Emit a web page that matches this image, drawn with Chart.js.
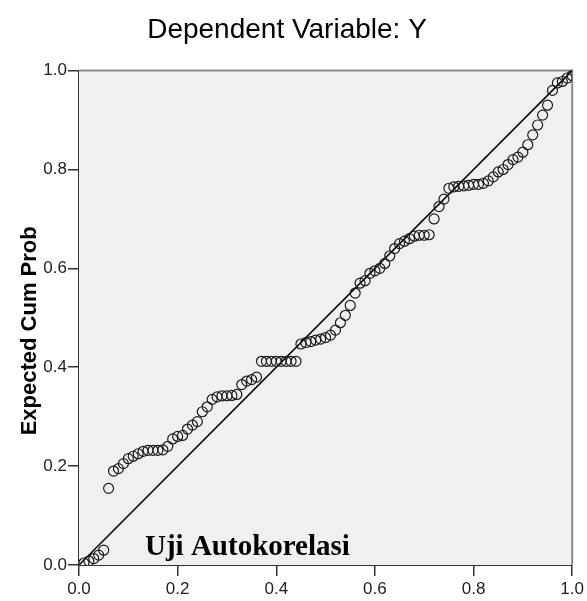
<!DOCTYPE html>
<html>
<head>
<meta charset="utf-8">
<script src="https://cdn.jsdelivr.net/npm/chart.js@4"></script>
<style>
  body { margin: 0; background: #fff; }
  #wrap { width: 587px; height: 601px; position: relative; }
</style>
</head>
<body>
<div id="wrap"><canvas id="ppPlot"></canvas></div>
<script>
// observed cumulative probability (x) and expected cumulative probability (y)
const obsCumProb = [
  0.01, 0.02, 0.03, 0.04, 0.05, 0.06, 0.07, 0.08, 0.09, 0.10,
  0.11, 0.12, 0.13, 0.14, 0.15, 0.16, 0.17, 0.18, 0.19, 0.20,
  0.21, 0.22, 0.23, 0.24, 0.25, 0.26, 0.27, 0.28, 0.29, 0.30,
  0.31, 0.32, 0.33, 0.34, 0.35, 0.36, 0.37, 0.38, 0.39, 0.40,
  0.41, 0.42, 0.43, 0.44, 0.45, 0.46, 0.47, 0.48, 0.49, 0.50,
  0.51, 0.52, 0.53, 0.54, 0.55, 0.56, 0.57, 0.58, 0.59, 0.60,
  0.61, 0.62, 0.63, 0.64, 0.65, 0.66, 0.67, 0.68, 0.69, 0.70,
  0.71, 0.72, 0.73, 0.74, 0.75, 0.76, 0.77, 0.78, 0.79, 0.80,
  0.81, 0.82, 0.83, 0.84, 0.85, 0.86, 0.87, 0.88, 0.89, 0.90,
  0.91, 0.92, 0.93, 0.94, 0.95, 0.96, 0.97, 0.98, 0.99, 1.00
];
const expCumProb = [
  0.004, 0.008, 0.013, 0.020, 0.030, 0.155, 0.190, 0.195, 0.205, 0.215,
  0.220, 0.225, 0.230, 0.232, 0.232, 0.232, 0.233, 0.240, 0.255, 0.260,
  0.262, 0.275, 0.283, 0.290, 0.310, 0.320, 0.335, 0.340, 0.342, 0.342,
  0.343, 0.345, 0.365, 0.372, 0.375, 0.380, 0.412, 0.412, 0.412, 0.412,
  0.412, 0.412, 0.412, 0.412, 0.447, 0.450, 0.452, 0.455, 0.457, 0.460,
  0.465, 0.475, 0.490, 0.505, 0.525, 0.550, 0.570, 0.575, 0.590, 0.595,
  0.600, 0.610, 0.625, 0.640, 0.650, 0.655, 0.660, 0.665, 0.667, 0.667,
  0.668, 0.700, 0.725, 0.740, 0.762, 0.765, 0.766, 0.767, 0.768, 0.770,
  0.770, 0.772, 0.777, 0.785, 0.795, 0.800, 0.810, 0.820, 0.825, 0.835,
  0.850, 0.870, 0.890, 0.910, 0.930, 0.960, 0.975, 0.978, 0.985, 0.990
];
const refLineX = [0, 1];
const refLineY = [0, 1];
const tickValues = [0, 0.2, 0.4, 0.6, 0.8, 1.0];

const chartTitle = "Dependent Variable: Y";
const yTitle = "Expected Cum Prob";
const overlayText = "Uji Autokorelasi";

let puntos = obsCumProb.map((x, i) => ({ x: x, y: expCumProb[i] }));
let linea = refLineX.map((x, i) => ({ x: x, y: refLineY[i] }));

// fondo gris del area del grafico, borde, titulo del eje Y y texto superpuesto
const fondoPlot = {
  id: "fondoPlot",
  beforeDatasetsDraw(chart) {
    let a = chart.chartArea;
    let ctx = chart.ctx;
    ctx.save();
    ctx.fillStyle = "#f0f0f0";
    ctx.fillRect(a.left, a.top, a.right - a.left, a.bottom - a.top);
    ctx.strokeStyle = "#8a8a8a";
    ctx.lineWidth = 2;
    ctx.beginPath();
    ctx.moveTo(a.left, a.top);
    ctx.lineTo(a.right, a.top);
    ctx.lineTo(a.right, a.bottom);
    ctx.stroke();
    ctx.restore();
  },
  afterDraw(chart) {
    let a = chart.chartArea;
    let ctx = chart.ctx;
    ctx.save();
    // titulo eje Y (un poco por debajo del centro, como en SPSS)
    ctx.translate(30, (a.top + a.bottom) / 2 + 13);
    ctx.rotate(-Math.PI / 2);
    ctx.font = "bold 22px Arial, 'Liberation Sans', sans-serif";
    ctx.fillStyle = "#000";
    ctx.textAlign = "center";
    ctx.textBaseline = "middle";
    ctx.fillText(yTitle, 0, 0);
    ctx.restore();

    ctx.save();
    ctx.font = "bold 29px 'Liberation Serif', 'Times New Roman', serif";
    ctx.fillStyle = "#000";
    ctx.textBaseline = "alphabetic";
    ctx.fillText(overlayText, 145, 555);
    ctx.restore();
  }
};

let ctx = document.getElementById("ppPlot");

new Chart(ctx, {
  data: {
    datasets: [
      {
        type: "scatter",
        data: puntos,
        pointStyle: "circle",
        pointRadius: 5,
        pointHoverRadius: 5,
        borderWidth: 1.2,
        borderColor: "#1a1a1a",
        backgroundColor: "rgba(0,0,0,0)"
      },
      {
        type: "line",
        data: linea,
        borderColor: "#000",
        borderWidth: 1.5,
        pointRadius: 0,
        fill: false
      }
    ]
  },
  options: {
    responsive: true,
    maintainAspectRatio: false,
    animation: false,
    layout: { padding: { left: 0, right: 13, top: 0, bottom: 0 } },
    plugins: {
      legend: { display: false },
      tooltip: { enabled: false },
      title: {
        display: true,
        text: chartTitle,
        color: "#000",
        font: { family: "Arial, 'Liberation Sans', sans-serif", size: 28, weight: "normal" },
        padding: { top: 13, bottom: 24 }
      }
    },
    scales: {
      x: {
        type: "linear",
        min: 0,
        max: 1,
        afterBuildTicks: s => { s.ticks = tickValues.map(v => ({ value: v })); },
        afterFit: s => { s.height = 36; },
        ticks: {
          color: "#222",
          padding: 3,
          font: { family: "Arial, 'Liberation Sans', sans-serif", size: 17 },
          callback: v => Number(v).toFixed(1)
        },
        grid: { drawOnChartArea: false, drawTicks: true, tickLength: 11, color: "#333", lineWidth: 1.5 },
        border: { display: true, color: "#333", width: 2 }
      },
      y: {
        type: "linear",
        min: 0,
        max: 1,
        afterBuildTicks: s => { s.ticks = tickValues.map(v => ({ value: v })); },
        afterFit: s => { s.width = 79; },
        ticks: {
          color: "#222",
          padding: 1,
          font: { family: "Arial, 'Liberation Sans', sans-serif", size: 17 },
          callback: v => Number(v).toFixed(1)
        },
        grid: { drawOnChartArea: false, drawTicks: true, tickLength: 11, color: "#333", lineWidth: 1.5 },
        border: { display: true, color: "#333", width: 2 }
      }
    }
  },
  plugins: [fondoPlot]
});
</script>
</body>
</html>
